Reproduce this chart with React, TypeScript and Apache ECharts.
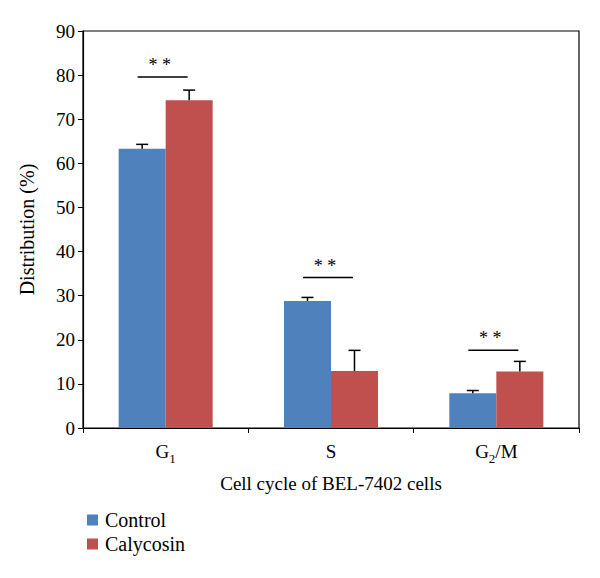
import React, { useEffect, useRef } from "react";
import * as echarts from "echarts";

const categories = ["G1", "S", "G2/M"];
const controlMeans = [63.3, 28.8, 7.9];
const controlErr = [1.0, 0.8, 0.6];
const calycosinMeans = [74.3, 12.9, 12.8];
const calycosinErr = [2.3, 4.7, 2.3];
const sigLevels = [79.6, 34.1, 17.6];
const sigLabels = ["* *", "* *", "* *"];
const yTicks = { min: 0, max: 90, interval: 10 };

const FONT = "Liberation Serif";
const BAR_W = 47;

export default function App() {
  const ref = useRef<HTMLDivElement>(null);
  useEffect(() => {
    if (!ref.current) return;
    const chart = echarts.init(ref.current, undefined, { renderer: "svg" });
    const errData: number[][] = [];
    controlMeans.forEach((v, i) => errData.push([i, v, controlErr[i], -1]));
    calycosinMeans.forEach((v, i) => errData.push([i, v, calycosinErr[i], 1]));
    const sigData = sigLevels.map((v, i) => [i, v]);

    const catLabel = (c: string) => {
      if (c === "G1") return "{a|G}{s|1}";
      if (c === "G2/M") return "{a|G}{s|2}{a|/M}";
      return "{a|" + c + "}";
    };

    chart.setOption({
      animation: false,
      textStyle: { fontFamily: FONT, color: "#000" },
      grid: {
        left: 83,
        right: 21,
        top: 31,
        bottom: 150,
        show: true,
        borderColor: "#000",
        borderWidth: 1.2,
        backgroundColor: "transparent",
      },
      legend: {
        data: ["Control", "Calycosin"],
        orient: "vertical",
        left: 82,
        top: 505,
        itemWidth: 11,
        itemHeight: 11,
        itemGap: 4,
        icon: "rect",
        formatter: (n: string) => "{t|" + n + "}",
        textStyle: {
          fontFamily: FONT,
          fontSize: 20,
          color: "#000",
          rich: { t: { fontFamily: FONT, fontSize: 20, color: "#000", padding: [0, 0, 0, 2] } },
        },
      },
      xAxis: {
        type: "category",
        data: categories,
        name: "Cell cycle of BEL-7402 cells",
        nameLocation: "middle",
        nameGap: 46,
        nameTextStyle: { fontFamily: FONT, fontSize: 19, color: "#000" },
        axisLine: { lineStyle: { color: "#000", width: 1.2 } },
        axisTick: { show: true, length: 5, alignWithLabel: false, lineStyle: { color: "#000" } },
        axisLabel: {
          margin: 13,
          formatter: (v: string) => catLabel(v),
          rich: {
            a: { fontFamily: FONT, fontSize: 19, color: "#000", verticalAlign: "bottom", lineHeight: 20 },
            s: { fontFamily: FONT, fontSize: 13, color: "#000", verticalAlign: "bottom", lineHeight: 20, padding: [0, 0, -4, 0] },
          },
        },
      },
      yAxis: {
        type: "value",
        min: yTicks.min,
        max: yTicks.max,
        interval: yTicks.interval,
        name: "Distribution (%)",
        nameLocation: "middle",
        nameGap: 46,
        nameTextStyle: { fontFamily: FONT, fontSize: 20, color: "#000" },
        axisLine: { show: true, lineStyle: { color: "#000", width: 1.2 } },
        axisTick: { show: true, length: 5, lineStyle: { color: "#000" } },
        axisLabel: { margin: 8, fontFamily: FONT, fontSize: 19, color: "#000" },
        splitLine: { show: false },
      },
      series: [
        {
          name: "Control",
          type: "bar",
          data: controlMeans,
          barWidth: BAR_W,
          barGap: "0%",
          itemStyle: { color: "#4F81BD" },
        },
        {
          name: "Calycosin",
          type: "bar",
          data: calycosinMeans,
          barWidth: BAR_W,
          barGap: "0%",
          itemStyle: { color: "#C0504D" },
        },
        {
          type: "custom",
          name: "err",
          data: errData,
          clip: false,
          z: 5,
          renderItem: (params: any, api: any) => {
            const idx = api.value(0);
            const v = api.value(1);
            const e = api.value(2);
            const side = api.value(3);
            const base = api.coord([idx, v]);
            const top = api.coord([idx, v + e]);
            const cx = base[0] + (side * BAR_W) / 2;
            const st = { stroke: "#000", lineWidth: 1.5 };
            return {
              type: "group",
              children: [
                { type: "line", shape: { x1: cx, y1: base[1], x2: cx, y2: top[1] }, style: st },
                { type: "line", shape: { x1: cx - 6, y1: top[1], x2: cx + 6, y2: top[1] }, style: st },
              ],
            };
          },
        },
        {
          type: "custom",
          name: "sig",
          data: sigData,
          clip: false,
          z: 5,
          renderItem: (params: any, api: any) => {
            const idx = api.value(0);
            const v = api.value(1);
            const p = api.coord([idx, v]);
            const cx = p[0] - 3;
            return {
              type: "group",
              children: [
                {
                  type: "line",
                  shape: { x1: cx - 25, y1: p[1], x2: cx + 25, y2: p[1] },
                  style: { stroke: "#000", lineWidth: 1.5 },
                },
                {
                  type: "text",
                  x: cx - 3,
                  y: p[1] - 3,
                  style: {
                    text: sigLabels[params.dataIndex],
                    fontFamily: FONT,
                    fontSize: 18,
                    fill: "#000",
                    align: "center",
                    verticalAlign: "bottom",
                  },
                },
              ],
            };
          },
        },
      ],
    });
    return () => chart.dispose();
  }, []);
  return (
    <div
      ref={ref}
      style={{ position: "fixed", left: 0, top: 0, width: 600, height: 578, background: "#fff" }}
    />
  );
}
